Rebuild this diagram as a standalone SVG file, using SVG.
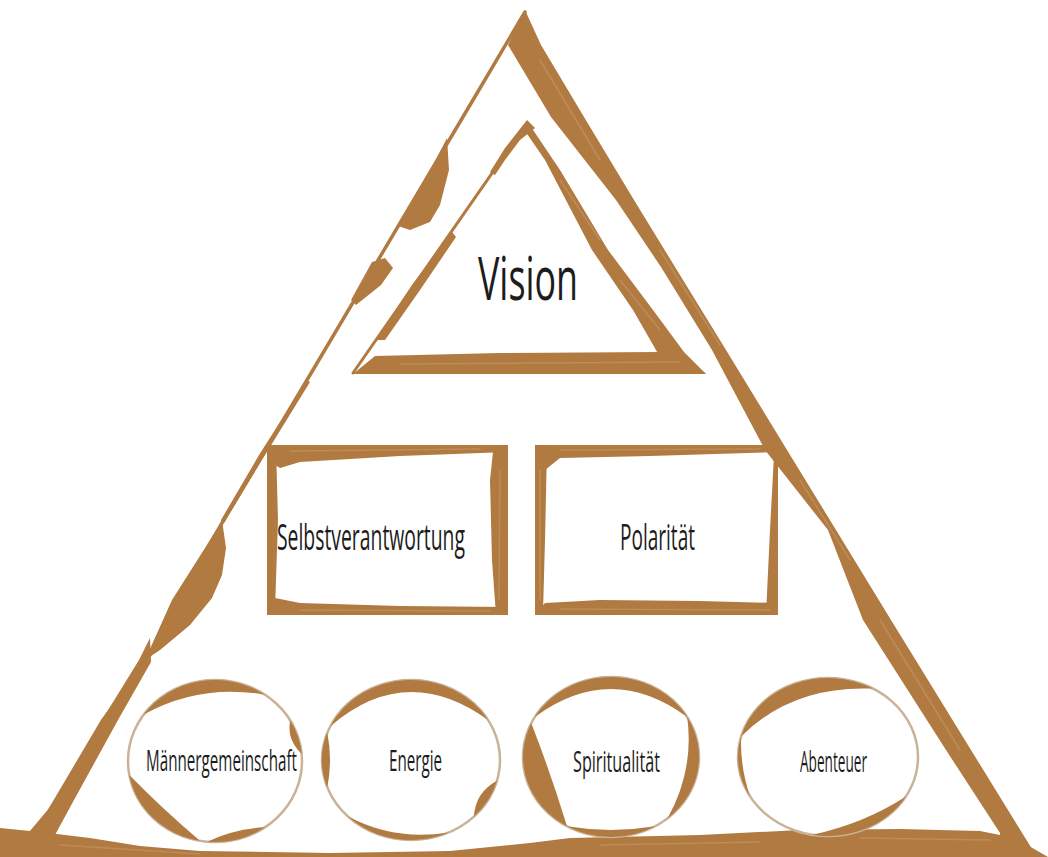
<svg xmlns="http://www.w3.org/2000/svg" width="1048" height="857" viewBox="0 0 1048 857">
  <style>
    .brush { fill: #b07a41; }
    .streak { fill: none; stroke: #cfa277; stroke-width: 1.5; stroke-linecap: round; opacity: 0.45; }
    .thin { fill: none; stroke: #b07a41; stroke-linejoin: round; stroke-linecap: round; }
    .ring { fill: #ffffff; stroke: #c9b398; stroke-width: 2.5; }
    .label { font-family: "Open Sans", "Liberation Sans", sans-serif; fill: #1c1c1c; }
  </style>
  <rect x="0" y="0" width="1048" height="857" fill="#ffffff"/>

  <g id="outer-triangle">
    <polyline class="thin" stroke-width="3.5" points="525,12 473,100 307,380 222,523 150,655 103,720 22,857"/>
    <polygon class="brush" points="525,10 541,45 584,117 634,200 675,267 726,350 787,450 836,530 891,620 971,750 1037,857 1000,857 1000,833 946,750 863,620 828,530 765,450 712,350 661,267 616,200 551,117 508,45 523,14"/>
    <path class="streak" d="M540,60 L600,160 M660,250 L720,345 M800,480 L850,560 M880,620 L960,750"/>
    <polygon class="brush" points="447,138 449,170 440,205 430,222 410,230 398,226 420,190"/>
    <polygon class="brush" points="385,258 393,268 381,285 356,305 351,300 372,262"/>
    <polygon class="brush" points="307,380 310,382 262,460 224,523 221,520 259,455"/>
    <polygon class="brush" points="222,520 226,548 222,575 212,598 190,625 160,650 145,660 172,600 205,548"/>
    <polygon class="brush" points="150,638 151,662 118,720 74,800 55,835 18,857 8,857 56,800 102,720 139,660"/>
    <polygon class="brush" points="0,828 40,832 90,838 140,846 200,851 330,853 450,851 530,843 570,838 700,835 800,830 900,829 980,831 1015,838 1048,857 0,857"/>
    <path class="streak" d="M60,845 L200,854 M600,845 L760,842 M860,838 L990,840"/>
  </g>

  <g id="node-vision">
    <line class="thin" stroke-width="3" x1="527" y1="123" x2="353" y2="373"/>
    <polygon class="brush" points="527,120 535,128 520,140 505,160 495,175 490,172 505,148"/>
    <polygon class="brush" points="452,232 456,237 420,290 385,340 376,340 412,285"/>
    <polygon class="brush" points="527,121 560,170 608,250 653,310 684,352 706,374 660,357 633,310 592,250 545,160 523,128"/>
    <polygon class="brush" points="353,374 375,356 500,353 660,352 690,360 706,374"/>
    <path class="streak" d="M400,364 L680,362 M560,180 L600,240 M620,280 L660,330"/>
    <text class="label" transform="translate(478,300) scale(0.58,1)" font-size="60" textLength="172.4" lengthAdjust="spacingAndGlyphs">Vision</text>
  </g>

  <g id="node-selbstverantwortung">
    <polygon class="brush" points="267,445 508,445 508,452 400,456 300,462 280,468 270,462"/>
    <polygon class="brush" points="267,445 276,446 278,520 275,610 267,615"/>
    <polygon class="brush" points="508,445 508,615 496,615 492,560 490,480 493,452"/>
    <polygon class="brush" points="267,615 508,615 508,607 400,606 300,603 275,598"/>
    <path class="streak" d="M290,451 L480,449 M300,610 L490,611 M500,470 L499,600"/>
    <text class="label" transform="translate(277,550) scale(0.58,1)" font-size="36" textLength="324.1" lengthAdjust="spacingAndGlyphs">Selbstverantwortung</text>
  </g>

  <g id="node-polaritaet">
    <polygon class="brush" points="535,445 778,445 778,452 650,456 560,458 545,470 537,478"/>
    <polygon class="brush" points="535,445 547,448 545,540 543,612 535,615"/>
    <polygon class="brush" points="535,615 778,615 778,603 700,601 600,600 545,603"/>
    <polygon class="brush" points="778,445 778,615 766,615 770,530 774,455"/>
    <path class="streak" d="M560,450 L760,449 M560,609 L770,610 M540,470 L540,600"/>
    <text class="label" transform="translate(620,550) scale(0.58,1)" font-size="36" textLength="129.3" lengthAdjust="spacingAndGlyphs">Polarität</text>
  </g>

  <g id="node-maennergemeinschaft">
    <ellipse class="ring" cx="215" cy="761" rx="87" ry="81"/>
    <path class="brush" d="M143.7 714.5 A87 81 0 0 1 264.9 694.7 Q199.9 683.4 143.7 714.5Z"/>
    <path class="brush" d="M199.9 840.8 A87 81 0 0 1 129.3 775.1 Q162.2 808.8 199.9 840.8Z"/>
    <path class="brush" d="M264.9 827.3 A87 81 0 0 1 207.4 841.7 Q234.8 828.5 264.9 827.3Z"/>
    <path class="brush" d="M290.3 720.5 A87 81 0 0 1 301.7 754 Q286.2 738.9 290.3 720.5Z"/>
    <text class="label" transform="translate(146,771) scale(0.58,1)" font-size="30" textLength="260.3" lengthAdjust="spacingAndGlyphs">Männergemeinschaft</text>
  </g>

  <g id="node-energie">
    <ellipse class="ring" cx="411" cy="760" rx="89" ry="80"/>
    <path class="brush" d="M330.4 726.2 A89 80 0 0 1 488.1 720 Q406 661.1 330.4 726.2Z"/>
    <path class="brush" d="M327.3 787.4 A89 80 0 0 1 327.3 732.6 Q332.7 760 327.3 787.4Z"/>
    <path class="brush" d="M497 780.7 A89 80 0 0 1 473.9 816.6 Q475.2 792.4 497 780.7Z"/>
    <path class="brush" d="M448.6 832.5 A89 80 0 0 1 348.1 816.6 Q394.9 841.3 448.6 832.5Z"/>
    <text class="label" transform="translate(389,771) scale(0.58,1)" font-size="30" textLength="91.4" lengthAdjust="spacingAndGlyphs">Energie</text>
  </g>

  <g id="node-spiritualitaet">
    <ellipse class="ring" cx="611" cy="757" rx="88" ry="80"/>
    <path class="brush" d="M534.8 717 A88 80 0 0 1 687.2 717 Q611 661 534.8 717Z"/>
    <path class="brush" d="M687.2 717 A88 80 0 0 1 667.6 818.3 Q694.4 770 687.2 717Z"/>
    <path class="brush" d="M567 826.3 A88 80 0 0 1 531.3 723.2 Q550.7 773.1 567 826.3Z"/>
    <path class="brush" d="M655 826.3 A88 80 0 0 1 567 826.3 Q611 833.7 655 826.3Z"/>
    <text class="label" transform="translate(573,772) scale(0.58,1)" font-size="30" textLength="150" lengthAdjust="spacingAndGlyphs">Spiritualität</text>
  </g>

  <g id="node-abenteuer">
    <ellipse class="ring" cx="828" cy="757" rx="90" ry="79"/>
    <path class="brush" d="M741.1 736.5 A90 79 0 0 1 873 688.6 Q792.4 685.1 741.1 736.5Z"/>
    <path class="brush" d="M905.9 796.5 A90 79 0 0 1 812.3 834.8 Q864.5 823.4 905.9 796.5Z"/>
    <path class="brush" d="M750.1 796.5 A90 79 0 0 1 741.1 736.5 Q740 767.1 750.1 796.5Z"/>
    <text class="label" transform="translate(800,772) scale(0.58,1)" font-size="30" textLength="115.5" lengthAdjust="spacingAndGlyphs">Abenteuer</text>
  </g>

  <g id="connectors"/>
</svg>
